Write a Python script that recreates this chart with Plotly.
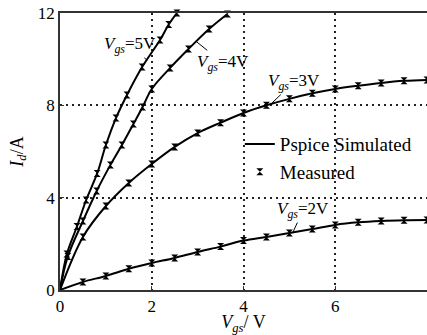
import plotly.graph_objects as go

# Measured drain current vs drain voltage, one list per gate voltage
vds_2v = [0.5, 1.0, 1.5, 2.0, 2.5, 3.0, 3.5, 4.0, 4.5, 5.0, 5.5, 6.0, 6.5, 7.0, 7.5, 8.0]
id_2v = [0.35, 0.61, 0.92, 1.17, 1.39, 1.65, 1.88, 2.14, 2.30, 2.47, 2.64, 2.82, 2.93, 2.99, 3.02, 3.03]

vds_3v = [0.5, 1.0, 1.5, 2.0, 2.5, 3.0, 3.5, 4.0, 4.5, 5.0, 5.5, 6.0, 6.5, 7.0, 7.5, 8.0]
id_3v = [2.30, 3.64, 4.64, 5.46, 6.20, 6.80, 7.25, 7.67, 8.00, 8.28, 8.52, 8.71, 8.85, 8.97, 9.06, 9.10]

vds_4v = [0.17, 0.5, 0.8, 1.1, 1.35, 1.6, 1.8, 2.0, 2.4, 2.8, 3.25, 3.65]
id_4v = [1.45, 2.99, 4.29, 5.42, 6.28, 7.19, 7.93, 8.71, 9.62, 10.44, 11.31, 11.96]

vds_5v = [0.15, 0.37, 0.57, 0.81, 1.0, 1.22, 1.46, 1.79, 2.18, 2.37, 2.55]
id_5v = [1.56, 2.75, 3.9, 5.05, 6.28, 7.45, 8.45, 9.66, 10.83, 11.5, 12.0]

curves = [(vds_2v, id_2v), (vds_3v, id_3v), (vds_4v, id_4v), (vds_5v, id_5v)]

# curve labels: gate voltage, point on curve, text offset in px
gate_volts = ["2V", "3V", "4V", "5V"]
label_at = [(5.08, 2.51), (4.62, 8.1), (2.98, 10.75), (1.9, 9.95)]
label_off = [(10, -22), (22, -21), (26, 21), (-17, -15)]

font = "Liberation Serif, DejaVu Serif, serif"

fig = go.Figure()
for i, (xs, ys) in enumerate(curves):
    # Pspice simulated line starts at the origin
    fig.add_trace(go.Scatter(x=[0] + xs, y=[0] + ys, mode="lines",
                             line=dict(color="black", width=2, shape="spline"),
                             name="Pspice Simulated", showlegend=(i == 0)))
    fig.add_trace(go.Scatter(x=xs, y=ys, mode="markers",
                             marker=dict(symbol="hourglass", size=7, color="black"),
                             name="Measured", showlegend=(i == 0), cliponaxis=False))

for v, (px, py), (ax, ay) in zip(gate_volts, label_at, label_off):
    fig.add_annotation(x=px, y=py, text="<i>V<sub>gs</sub></i>=" + v,
                       showarrow=True, arrowhead=0, arrowwidth=1, arrowcolor="black",
                       ax=ax, ay=ay, font=dict(family=font, size=17, color="black"))

axis_style = dict(showline=True, linecolor="#333", linewidth=1.5, mirror=True,
                  showgrid=True, gridcolor="#222", griddash="2px,4px", gridwidth=1.5,
                  ticks="inside", ticklen=4, tickcolor="#333", zeroline=False,
                  automargin=False,
                  tickfont=dict(family=font, size=17, color="black"))

fig.update_xaxes(range=[0, 8], tickvals=[0, 2, 4, 6, 8],
                 title=dict(text="<i>V<sub>gs</sub></i>/ V", font=dict(family=font, size=18, color="black"),
                            standoff=2),
                 **axis_style)
fig.update_yaxes(range=[0, 12], tickvals=[0, 4, 8, 12],
                 title=dict(text="<i>I<sub>d</sub></i>/A", font=dict(family=font, size=18, color="black"),
                            standoff=10),
                 **axis_style)

fig.update_layout(
    width=427, height=335,
    margin=dict(l=60, r=0, t=13, b=45, autoexpand=False),
    paper_bgcolor="white", plot_bgcolor="white",
    showlegend=True,
    legend=dict(x=0.49, y=0.595, xanchor="left", yanchor="top",
                bgcolor="rgba(0,0,0,0)", font=dict(family=font, size=19, color="black"),
                tracegroupgap=0, itemwidth=30),
)

# drop the page's default 8px body margin so the plot sits at the window corner
fig.write_html("out.html", config={"displayModeBar": False},
               post_script="document.body.style.margin='0';")
